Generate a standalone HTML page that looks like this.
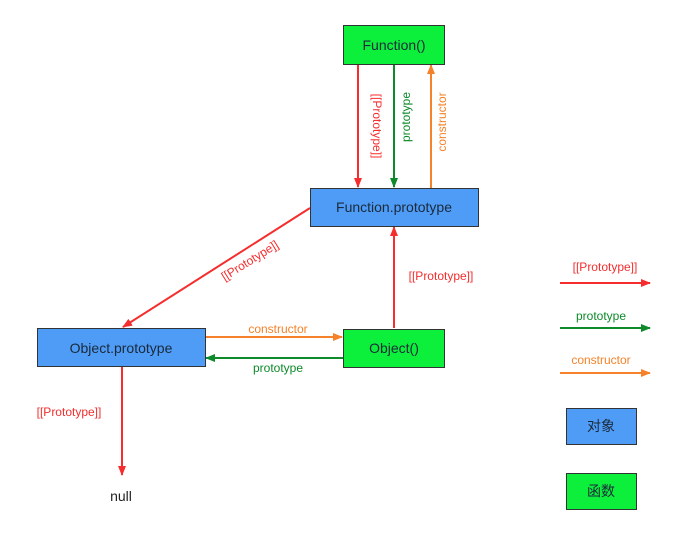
<!DOCTYPE html><html><head><style>body{margin:0;background:#fff}svg text{font-family:"Liberation Sans","Noto Sans CJK SC",sans-serif}</style></head><body>
<svg width="688" height="536" viewBox="0 0 688 536" xmlns="http://www.w3.org/2000/svg">
<defs>
<marker id="r" markerWidth="10" markerHeight="8" refX="9" refY="4" orient="auto" markerUnits="userSpaceOnUse"><path d="M0,0L10,4L0,8z" fill="#f52d2d"/></marker>
<marker id="g" markerWidth="10" markerHeight="8" refX="9" refY="4" orient="auto" markerUnits="userSpaceOnUse"><path d="M0,0L10,4L0,8z" fill="#0e8a2a"/></marker>
<marker id="o" markerWidth="10" markerHeight="8" refX="9" refY="4" orient="auto" markerUnits="userSpaceOnUse"><path d="M0,0L10,4L0,8z" fill="#f5822a"/></marker>
</defs>
<g stroke-width="2" fill="none">
<line x1="358" y1="64" x2="358" y2="187" stroke="#f52d2d" marker-end="url(#r)"/>
<line x1="394" y1="64" x2="394" y2="187" stroke="#0e8a2a" marker-end="url(#g)"/>
<line x1="431" y1="188" x2="431" y2="65" stroke="#f5822a" marker-end="url(#o)"/>
<line x1="310" y1="208" x2="123" y2="327" stroke="#f52d2d" marker-end="url(#r)"/>
<line x1="394" y1="328" x2="394" y2="227" stroke="#f52d2d" marker-end="url(#r)"/>
<line x1="205" y1="337" x2="342" y2="337" stroke="#f5822a" marker-end="url(#o)"/>
<line x1="343" y1="358" x2="206" y2="358" stroke="#0e8a2a" marker-end="url(#g)"/>
<line x1="122" y1="366" x2="122" y2="475" stroke="#f52d2d" marker-end="url(#r)"/>
<line x1="560" y1="283" x2="650" y2="283" stroke="#f52d2d" marker-end="url(#r)"/>
<line x1="560" y1="328" x2="650" y2="328" stroke="#0e8a2a" marker-end="url(#g)"/>
<line x1="560" y1="373" x2="650" y2="373" stroke="#f5822a" marker-end="url(#o)"/>
</g>
<g stroke="#333" stroke-width="1">
<rect x="343.5" y="25.5" width="101" height="39" fill="#0cf03c"/>
<rect x="310.5" y="188.5" width="168" height="38" fill="#4f9cf7"/>
<rect x="37.5" y="328.5" width="168" height="38" fill="#4f9cf7"/>
<rect x="343.5" y="329.5" width="101" height="38" fill="#0cf03c"/>
<rect x="566.5" y="408.5" width="70" height="36" fill="#4f9cf7"/>
<rect x="566.5" y="473.5" width="70" height="36" fill="#0cf03c"/>
</g>
<g font-size="14" fill="#1a2a3a" text-anchor="middle">
<text x="394" y="50">Function()</text>
<text x="394" y="212">Function.prototype</text>
<text x="121" y="353">Object.prototype</text>
<text x="394" y="353">Object()</text>
<text x="601" y="431">对象</text>
<text x="601" y="496">函数</text>
<text x="121" y="501" fill="#222">null</text>
</g>
<g font-size="12" text-anchor="middle">
<text transform="translate(373,126) rotate(90)" fill="#f52d2d">[[Prototype]]</text>
<text transform="translate(410,117) rotate(-90)" fill="#0e8a2a">prototype</text>
<text transform="translate(446,122) rotate(-90)" fill="#f5822a">constructor</text>
<text transform="translate(252,264) rotate(-32)" fill="#f52d2d">[[Prototype]]</text>
<text x="441" y="280" fill="#f52d2d">[[Prototype]]</text>
<text x="278" y="333" fill="#f5822a">constructor</text>
<text x="278" y="372" fill="#0e8a2a">prototype</text>
<text x="69" y="416" fill="#f52d2d">[[Prototype]]</text>
<text x="605" y="271" fill="#f52d2d">[[Prototype]]</text>
<text x="601" y="320" fill="#0e8a2a">prototype</text>
<text x="601" y="364" fill="#f5822a">constructor</text>
</g>
</svg></body></html>
